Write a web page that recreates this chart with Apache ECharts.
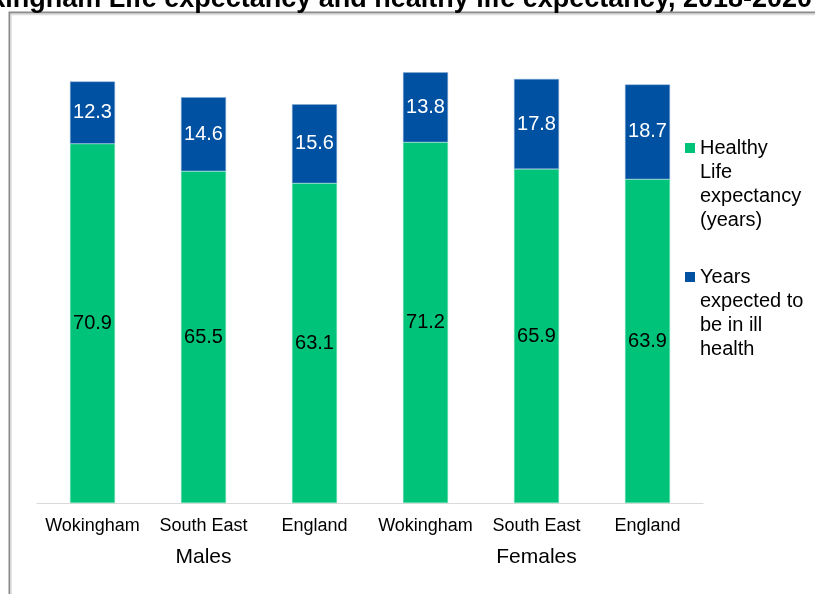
<!DOCTYPE html>
<html>
<head>
<meta charset="utf-8">
<script src="https://cdn.jsdelivr.net/npm/echarts@6/dist/echarts.min.js"></script>
<style>
  html, body { margin: 0; padding: 0; background: #fff; }
  #chart { width: 815px; height: 594px; }
</style>
</head>
<body>
<div id="chart"></div>
<script>
  // data
  const areas = ['Wokingham', 'South East', 'England', 'Wokingham', 'South East', 'England']
  const groups = ['Males', 'Females']
  const healthyYears = [70.9, 65.5, 63.1, 71.2, 65.9, 63.9]
  const illYears = [12.3, 14.6, 15.6, 13.8, 17.8, 18.7]
  const healthyName = 'Healthy\nLife\nexpectancy\n(years)'
  const illName = 'Years\nexpected to\nbe in ill\nhealth'

  const font = "'Liberation Sans', Arial, sans-serif"
  const green = '#00C37A'
  const blue = '#0051A2'

  let mychart = echarts.init(document.getElementById('chart'))

  // marker drawn at the top of a tall invisible box so it sits by the first text line
  const legendIcon = 'path://M0,0h0.01v0.01h-0.01z M0,7h10v10h-10z M0,95.99h0.01v0.01h-0.01z'

  function legendFor (name, top) {
    return {
      data: [name],
      orient: 'vertical',
      left: 685,
      top: top,
      padding: 0,
      itemWidth: 10,
      itemHeight: 96,
      itemGap: 0,
      icon: legendIcon,
      selectedMode: false,
      itemStyle: { borderWidth: 0 },
      textStyle: {
        fontFamily: font,
        fontSize: 20,
        lineHeight: 24,
        color: '#000'
      }
    }
  }

  let options = {
    animation: false,
    backgroundColor: '#fff',
    textStyle: { fontFamily: font },
    graphic: [
      {
        type: 'rect',
        silent: true,
        shape: { x: 9.5, y: 12.5, width: 900, height: 700 },
        style: { fill: 'none', stroke: '#8a8a8a', lineWidth: 2 }
      },
      {
        type: 'polyline',
        silent: true,
        shape: { points: [[11, 700], [11, 14.5], [900, 14.5]] },
        style: { fill: 'none', stroke: '#dcdcdc', lineWidth: 1.5 }
      },
      {
        type: 'text',
        silent: true,
        style: {
          text: 'Wokingham Life expectancy and healthy life expectancy, 2018-2020',
          x: 812,
          y: 13,
          align: 'right',
          verticalAlign: 'bottom',
          font: 'bold 27px ' + font,
          fill: '#000'
        }
      }
    ],
    legend: [legendFor(healthyName, 136), legendFor(illName, 265)],
    grid: {
      left: 37,
      right: 112,
      top: 47,
      bottom: 91,
      containLabel: false
    },
    xAxis: [
      {
        type: 'category',
        data: areas,
        axisLine: { lineStyle: { color: '#d9d9d9', width: 1 } },
        axisTick: { show: false },
        axisLabel: { color: '#000', fontSize: 18, margin: 14, interval: 0 }
      },
      {
        type: 'category',
        data: groups,
        position: 'bottom',
        offset: 36,
        axisLine: { show: false },
        axisTick: { show: false },
        axisLabel: { color: '#000', fontSize: 21, margin: 8, interval: 0 }
      }
    ],
    yAxis: {
      type: 'value',
      min: 0,
      max: 90,
      show: false,
      splitLine: { show: false }
    },
    series: [
      {
        name: healthyName,
        type: 'bar',
        stack: 'total',
        barWidth: 45,
        data: healthyYears,
        itemStyle: { color: green, borderColor: '#7fe0bc', borderWidth: 0.5 },
        label: {
          show: true,
          position: 'inside',
          color: '#000',
          fontSize: 20
        }
      },
      {
        name: illName,
        type: 'bar',
        stack: 'total',
        barWidth: 45,
        data: illYears,
        itemStyle: { color: blue, borderColor: '#8fb0d8', borderWidth: 0.5 },
        label: {
          show: true,
          position: 'inside',
          color: '#fff',
          fontSize: 20
        }
      }
    ]
  }
  mychart.setOption(options)
</script>
</body>
</html>
